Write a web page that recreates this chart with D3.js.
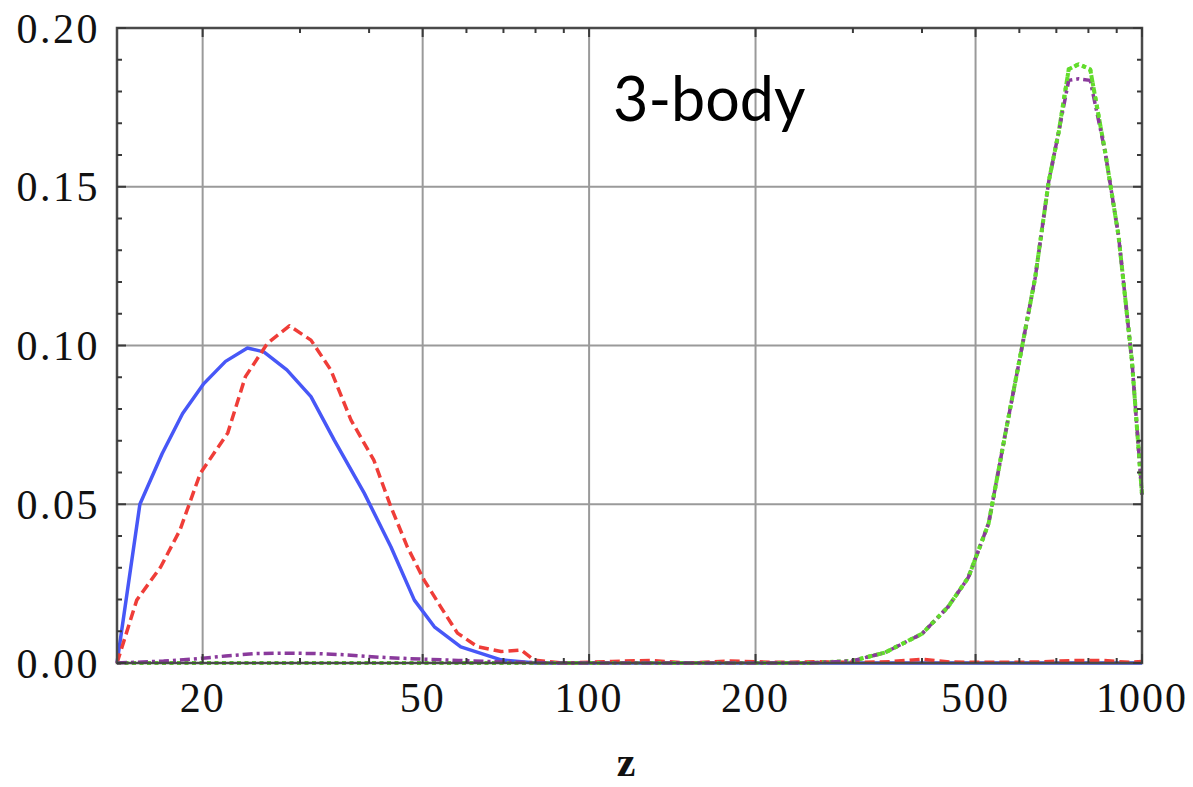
<!DOCTYPE html>
<html>
<head>
<meta charset="utf-8">
<script src="https://cdn.jsdelivr.net/npm/d3@7"></script>
<style>
  html, body { margin: 0; padding: 0; background: #fff; }
  svg { display: block; }
</style>
</head>
<body>
<svg id="chart" width="1193" height="787"></svg>
<script>
// Redshift distribution of 3-body events, one curve per channel
const blueZ = [14, 15.4, 16.9, 18.4, 20.1, 22.0, 24.1, 25.8, 28.4, 31.4, 34.6, 39.2, 43.8, 48.3, 52.5, 58.6, 69.3, 80, 100, 150, 200, 300, 500, 700, 1000];
const blueP = [0, 0.050, 0.066, 0.0786, 0.088, 0.095, 0.0992, 0.098, 0.0923, 0.0839, 0.0702, 0.0535, 0.0366, 0.0198, 0.0114, 0.0051, 0.001, 0, 0, 0, 0, 0, 0, 0, 0];

const redZ = [14, 15.2, 16.8, 18.2, 19.8, 22.2, 23.9, 26.2, 28.7, 31.4, 34.1, 37.1, 40.8, 43.8, 46.9, 50.3, 53.9, 57.8, 62.9, 69.3, 75.3, 79.6, 90, 110, 130, 150, 180, 220, 260, 300, 350, 400, 450, 550, 650, 750, 850, 950, 1000];
const redP = [0, 0.0198, 0.0303, 0.0419, 0.0597, 0.0724, 0.0902, 0.1007, 0.1062, 0.1017, 0.0923, 0.0765, 0.0639, 0.0492, 0.0366, 0.0261, 0.0177, 0.0094, 0.0051, 0.0036, 0.0041, 0.0009, 0, 0.0005, 0.0008, 0, 0.0006, 0.0002, 0.0004, 0.0002, 0.0004, 0.0012, 0.0003, 0.0002, 0.0003, 0.0008, 0.0008, 0.0002, 0.0005];

const purpleZ = [14, 17, 20, 22, 25, 28, 32, 36, 42, 50, 58, 70, 90, 150, 250, 300, 343, 400, 446, 485, 528, 565, 606, 641, 678, 707, 737, 768, 806, 858, 907, 959, 1000];
const purpleP = [0, 0.0006, 0.0015, 0.0022, 0.003, 0.0031, 0.003, 0.0026, 0.0018, 0.0012, 0.0008, 0.0003, 0, 0, 0, 0.0007, 0.0033, 0.0092, 0.0177, 0.0269, 0.044, 0.0715, 0.0991, 0.1214, 0.1516, 0.1673, 0.1835, 0.184, 0.1835, 0.1608, 0.1345, 0.0951, 0.053];

const greenZ = [14, 20, 30, 50, 100, 200, 250, 300, 343, 400, 446, 485, 528, 565, 606, 641, 678, 707, 737, 768, 806, 858, 907, 959, 1000];
const greenP = [0, 0, 0, 0, 0, 0, 0, 0.0007, 0.0033, 0.0092, 0.0177, 0.0269, 0.044, 0.0715, 0.0991, 0.1214, 0.1516, 0.1673, 0.187, 0.1886, 0.187, 0.1608, 0.1345, 0.0951, 0.053];

const xMajor = [20, 50, 100, 200, 500, 1000];
const xMinor = [30, 40, 60, 70, 80, 90, 300, 400, 600, 700, 800, 900];
const yMajor = [0, 0.05, 0.10, 0.15, 0.20];
const yMinor = d3.range(0, 0.2001, 0.01);

const svg = d3.select("#chart");
const L = 117, R = 1142, T = 28, B = 663;

const x = d3.scaleLog().domain([14, 1000]).range([L, R]);
const y = d3.scaleLinear().domain([0, 0.2]).range([B, T]);

// grid lines
const grid = svg.append("g").attr("stroke", "#9a9a9a").attr("stroke-width", 2);
grid.selectAll("line.gx").data(xMajor.filter(v => v < 1000)).join("line")
  .attr("x1", d => x(d)).attr("x2", d => x(d)).attr("y1", T).attr("y2", B);
grid.selectAll("line.gy").data(yMajor.filter(v => v > 0 && v < 0.2)).join("line")
  .attr("class", "gy")
  .attr("x1", L).attr("x2", R).attr("y1", d => y(d)).attr("y2", d => y(d));

// label inside the frame
svg.append("text")
  .attr("x", 613).attr("y", 121)
  .attr("font-family", "Lato, 'Open Sans', sans-serif")
  .attr("font-size", 61)
  .attr("fill", "#000")
  .text("3-body");

// curves
const line = d3.line().x(d => x(d[0])).y(d => y(d[1]));
const series = [
  { z: blueZ, p: blueP, color: "#4757f7", dash: null, w: 3.5 },
  { z: redZ, p: redP, color: "#ef3d38", dash: "10,5", w: 3.5 },
  { z: greenZ, p: greenP, color: "#62dc2c", dash: "4,3.5", w: 4 },
  { z: purpleZ, p: purpleP, color: "#8a3a9c", dash: "10,4,3,4", w: 3.5 }
];
const plot = svg.append("g");
series.forEach(s => {
  plot.append("path")
    .datum(s.z.map((z, i) => [z, s.p[i]]))
    .attr("d", line)
    .attr("fill", "none")
    .attr("stroke", s.color)
    .attr("stroke-width", s.w)
    .attr("stroke-dasharray", s.dash)
    .attr("stroke-linejoin", "round");
});
// green dotted drawn over purple at the peak
plot.append("path")
  .datum(greenZ.map((z, i) => [z, greenP[i]]).filter(d => d[0] >= 300))
  .attr("d", line)
  .attr("fill", "none")
  .attr("stroke", "#62dc2c")
  .attr("stroke-width", 4)
  .attr("stroke-dasharray", "4,5")
  .attr("stroke-dashoffset", 2);

// frame
svg.append("rect")
  .attr("x", L).attr("y", T).attr("width", R - L).attr("height", B - T)
  .attr("fill", "none").attr("stroke", "#4a4a4a").attr("stroke-width", 2.5);

// ticks
const ticks = svg.append("g").attr("stroke", "#3a3a3a").attr("stroke-width", 2);
const xt = xMajor.map(v => [v, 9]).concat(xMinor.map(v => [v, 5]));
ticks.selectAll("line.xb").data(xt).join("line").attr("class", "xb")
  .attr("x1", d => x(d[0])).attr("x2", d => x(d[0])).attr("y1", B).attr("y2", d => B - d[1]);
ticks.selectAll("line.xt").data(xt).join("line").attr("class", "xt")
  .attr("x1", d => x(d[0])).attr("x2", d => x(d[0])).attr("y1", T).attr("y2", d => T + d[1]);
const yt = yMinor.map(v => [v, Math.abs(v / 0.05 - Math.round(v / 0.05)) < 1e-6 ? 9 : 5]);
ticks.selectAll("line.yl").data(yt).join("line").attr("class", "yl")
  .attr("x1", L).attr("x2", d => L + d[1]).attr("y1", d => y(d[0])).attr("y2", d => y(d[0]));
ticks.selectAll("line.yr").data(yt).join("line").attr("class", "yr")
  .attr("x1", R).attr("x2", d => R - d[1]).attr("y1", d => y(d[0])).attr("y2", d => y(d[0]));

// tick labels
const serif = "'Liberation Serif', 'Times New Roman', serif";
svg.append("g").selectAll("text").data(yMajor).join("text")
  .attr("x", 100).attr("y", d => y(d))
  .attr("dy", "0.35em")
  .attr("text-anchor", "end")
  .attr("font-family", serif).attr("font-size", 42)
  .attr("letter-spacing", 2.5)
  .attr("fill", "#111")
  .text(d => d3.format(".2f")(d));

svg.append("g").selectAll("text").data(xMajor).join("text")
  .attr("x", d => x(d)).attr("y", 712)
  .attr("text-anchor", "middle")
  .attr("font-family", serif).attr("font-size", 42)
  .attr("letter-spacing", 2)
  .attr("fill", "#111")
  .text(d => d);

// axis title
svg.append("text")
  .attr("x", 626).attr("y", 776)
  .attr("text-anchor", "middle")
  .attr("font-family", serif).attr("font-size", 42).attr("font-weight", "bold")
  .attr("fill", "#111")
  .text("z");
</script>
</body>
</html>
